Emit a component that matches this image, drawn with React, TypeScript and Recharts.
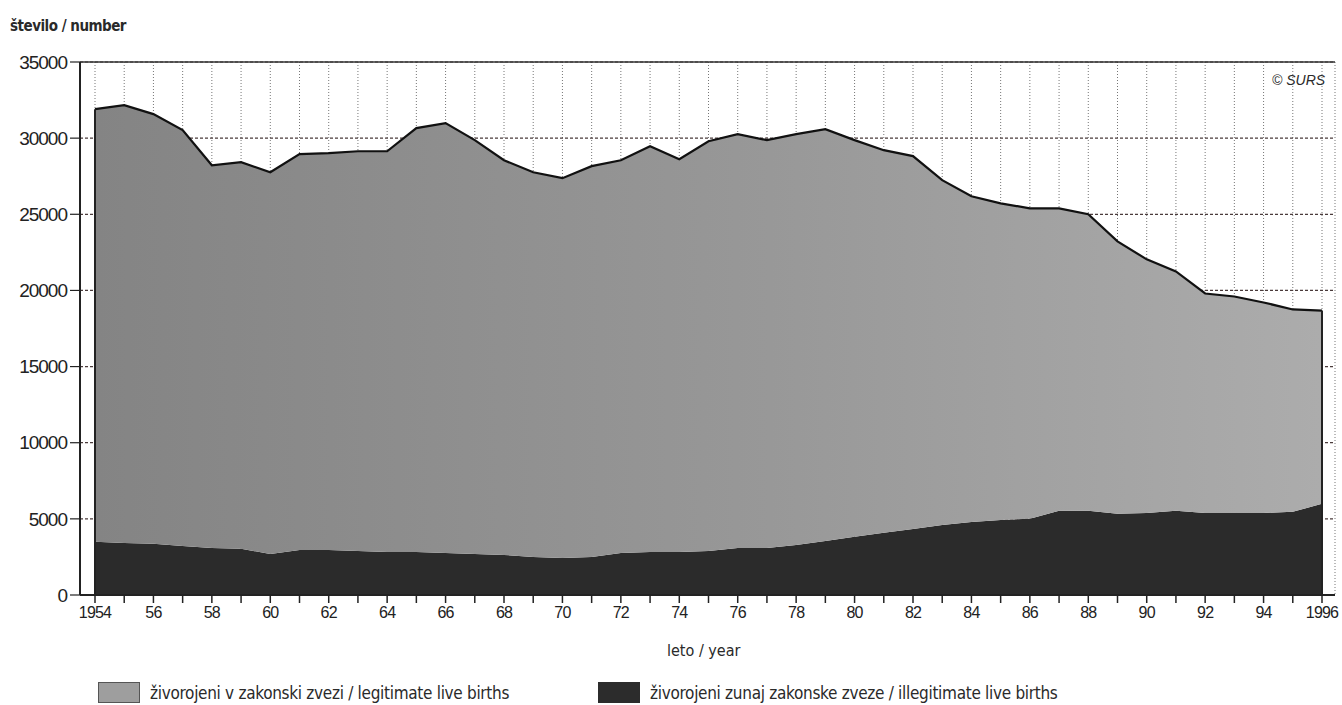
import { AreaChart, Area, XAxis, YAxis, CartesianGrid, ReferenceLine } from 'recharts';

document.body.style.margin = '0';

const years = [
  1954, 1955, 1956, 1957, 1958, 1959, 1960, 1961, 1962, 1963, 1964, 1965, 1966, 1967,
  1968, 1969, 1970, 1971, 1972, 1973, 1974, 1975, 1976, 1977, 1978, 1979, 1980, 1981,
  1982, 1983, 1984, 1985, 1986, 1987, 1988, 1989, 1990, 1991, 1992, 1993, 1994, 1995, 1996,
];

// živorojeni v zakonski zvezi / legitimate live births
const legitimate = [
  28410, 28750, 28220, 27310, 25130, 25390, 25060, 25990, 26050, 26250, 26310, 27830, 28230, 27170,
  25920, 25260, 24940, 25660, 25790, 26640, 25790, 26910, 27170, 26780, 26970, 27040, 26050, 25130,
  24480, 22640, 21380, 20790, 20390, 19860, 19470, 17890, 16650, 15720, 14410, 14210, 13820, 13290, 12690,
];

// živorojeni zunaj zakonske zveze / illegitimate live births
const illegitimate = [
  3490, 3420, 3360, 3220, 3090, 3030, 2700, 2960, 2960, 2890, 2830, 2830, 2760, 2700,
  2630, 2500, 2430, 2500, 2760, 2830, 2830, 2890, 3090, 3090, 3290, 3550, 3820, 4080,
  4340, 4600, 4800, 4930, 5000, 5530, 5530, 5330, 5390, 5530, 5390, 5390, 5390, 5460, 5990,
];

const yTicks = [0, 5000, 10000, 15000, 20000, 25000, 30000, 35000];

const data = years.map((year, i) => ({
  year,
  legitimate: legitimate[i],
  illegitimate: illegitimate[i],
}));

const narrow = "'Liberation Sans Narrow', 'DejaVu Sans Condensed', 'Liberation Sans', sans-serif";
const sans = "'Liberation Sans', Arial, sans-serif";

const formatYear = (y: number) => {
  if (y === 1954 || y === 1996) return String(y);
  if (y % 2 === 0) return String(y).slice(2);
  return '';
};

export default function App() {
  const lastYear = years[years.length - 1];
  const lastTotal = legitimate[legitimate.length - 1] + illegitimate[illegitimate.length - 1];
  const firstYear = years[0];
  const firstTotal = legitimate[0] + illegitimate[0];

  return (
    <div style={{ position: 'relative', width: 1342, height: 705, background: '#fff', color: '#2a2a2a', overflow: 'hidden' }}>
      <div style={{ position: 'absolute', left: 10, top: 17, fontFamily: narrow, fontSize: 15, fontWeight: 'bold', letterSpacing: -0.5 }}>
        število / number
      </div>
      <div style={{ position: 'absolute', left: 1272, top: 72, fontFamily: sans, fontSize: 14, fontStyle: 'italic' }}>
        © SURS
      </div>

      <AreaChart
        width={1342}
        height={640}
        data={data}
        margin={{ top: 62, right: 7, left: 0, bottom: 15 }}
      >
        <defs>
          <linearGradient id="legitFill" x1="0" y1="0" x2="1" y2="0">
            <stop offset="0%" stopColor="#848484" />
            <stop offset="55%" stopColor="#989898" />
            <stop offset="100%" stopColor="#acacac" />
          </linearGradient>
        </defs>
        <CartesianGrid horizontal={false} stroke="#666" strokeDasharray="1 2" strokeWidth={0.9} />
        <CartesianGrid vertical={false} stroke="#4a3b3b" strokeDasharray="3 2" strokeWidth={1.2} />
        <XAxis
          dataKey="year"
          type="number"
          domain={[1954, 1996]}
          ticks={years}
          interval={0}
          padding={{ left: 15, right: 13 }}
          tickFormatter={formatYear}
          tickSize={8}
          tickMargin={4}
          height={30}
          axisLine={{ stroke: '#222', strokeWidth: 2 }}
          tickLine={{ stroke: '#222', strokeWidth: 1.5 }}
          tick={{ fill: '#222', fontSize: 16, fontFamily: sans, letterSpacing: -0.8 }}
        />
        <YAxis
          domain={[0, 35000]}
          ticks={yTicks}
          interval={0}
          width={80}
          tickSize={10}
          tickMargin={3}
          axisLine={{ stroke: '#222', strokeWidth: 2 }}
          tickLine={{ stroke: '#222', strokeWidth: 1.2 }}
          tick={{ fill: '#222', fontSize: 19, fontFamily: sans, letterSpacing: -1 }}
        />
        <YAxis
          yAxisId="right"
          orientation="right"
          domain={[0, 35000]}
          width={0}
          tick={false}
          tickLine={false}
          axisLine={{ stroke: '#333', strokeWidth: 1.5 }}
        />
        <ReferenceLine y={35000} stroke="#333" strokeWidth={1.5} />
        <Area
          type="linear"
          dataKey="illegitimate"
          stackId="births"
          stroke="none"
          fill="#2b2b2b"
          fillOpacity={1}
          isAnimationActive={false}
        />
        <Area
          type="linear"
          dataKey="legitimate"
          stackId="births"
          stroke="#111"
          strokeWidth={2.2}
          fill="url(#legitFill)"
          fillOpacity={1}
          isAnimationActive={false}
        />
        <ReferenceLine segment={[{ x: firstYear, y: 0 }, { x: firstYear, y: firstTotal }]} stroke="#222" strokeWidth={2} />
        <ReferenceLine segment={[{ x: lastYear, y: 0 }, { x: lastYear, y: lastTotal }]} stroke="#222" strokeWidth={2} />
      </AreaChart>

      <div style={{ position: 'absolute', left: 667, top: 641, fontFamily: narrow, fontSize: 16, letterSpacing: 0 }}>
        leto / year
      </div>

      <div style={{ position: 'absolute', left: 98, top: 682, display: 'flex', alignItems: 'center' }}>
        <div style={{ width: 42, height: 21, background: '#9e9e9e', border: '1px solid #555', boxSizing: 'border-box' }} />
        <span style={{ marginLeft: 10, fontFamily: narrow, fontSize: 17, letterSpacing: -0.3 }}>
          živorojeni v zakonski zvezi / legitimate live births
        </span>
      </div>
      <div style={{ position: 'absolute', left: 598, top: 682, display: 'flex', alignItems: 'center' }}>
        <div style={{ width: 42, height: 21, background: '#2c2c2c' }} />
        <span style={{ marginLeft: 10, fontFamily: narrow, fontSize: 17, letterSpacing: -0.3 }}>
          živorojeni zunaj zakonske zveze / illegitimate live births
        </span>
      </div>
    </div>
  );
}
